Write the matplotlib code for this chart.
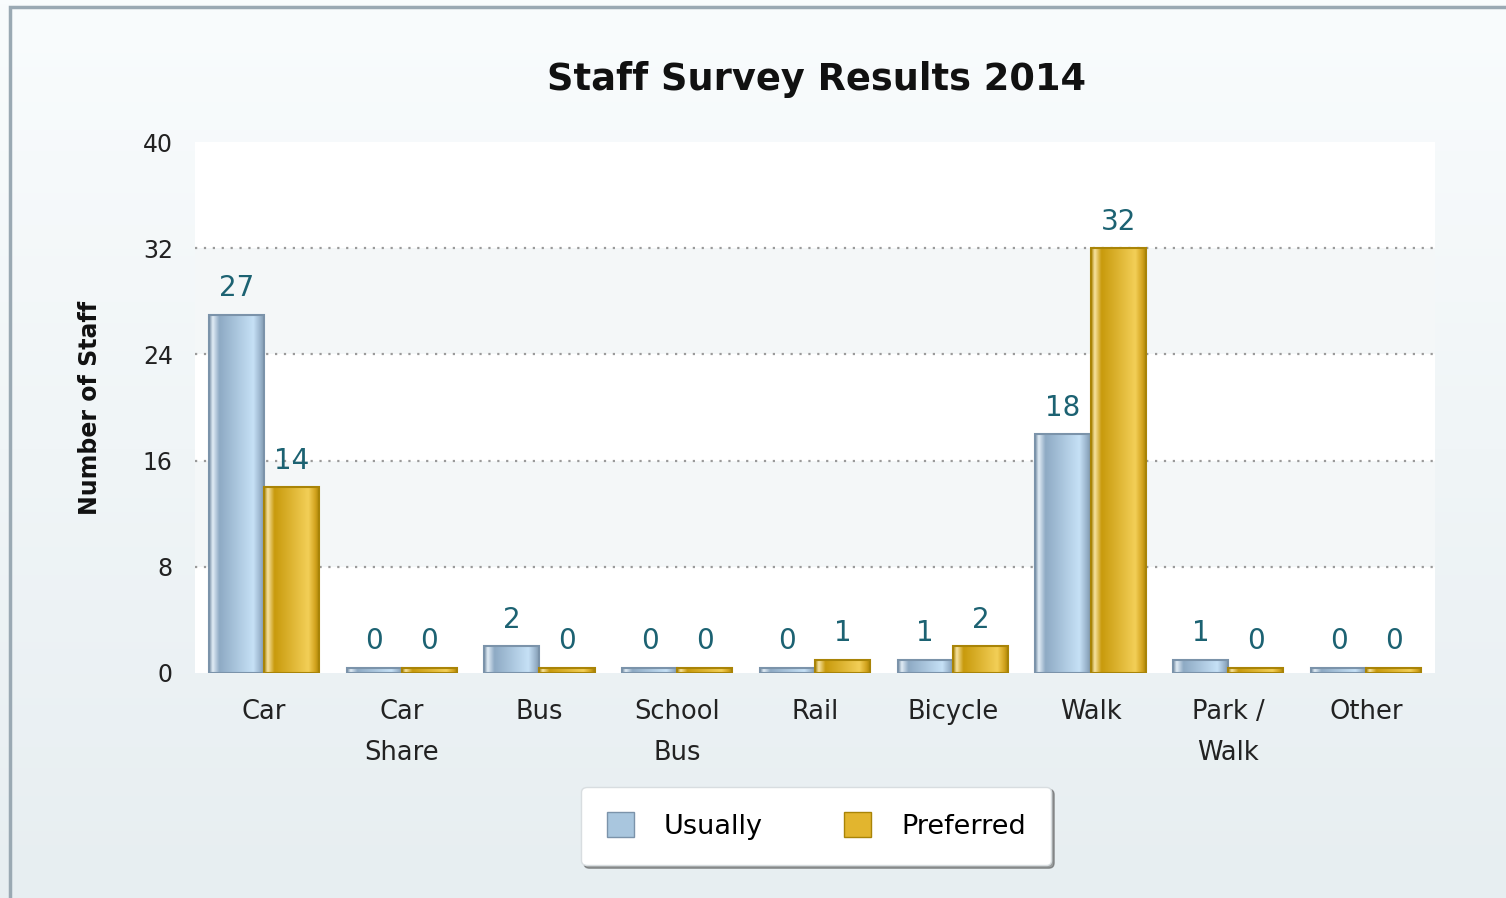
import numpy as np
import matplotlib.pyplot as plt
from matplotlib.colors import LinearSegmentedColormap
from matplotlib.patches import Rectangle, Patch

categories = ["Car", "Car\nShare", "Bus", "School\nBus", "Rail", "Bicycle", "Walk", "Park /\nWalk", "Other"]
usually = [27, 0, 2, 0, 0, 1, 18, 1, 0]
preferred = [14, 0, 0, 0, 1, 2, 32, 0, 0]
yticks = [0, 8, 16, 24, 32, 40]

blue_cmap = LinearSegmentedColormap.from_list(
    "blue", [(0, "#7f97ad"), (0.06, "#e2edf6"), (0.18, "#8eaac4"), (0.8, "#c6e1f6"), (0.92, "#9cb6ce"), (1, "#7f97ad")])
gold_cmap = LinearSegmentedColormap.from_list(
    "gold", [(0, "#b08a10"), (0.06, "#f8e4a2"), (0.18, "#c89a0c"), (0.8, "#f3cf58"), (0.92, "#d4a520"), (1, "#a88306")])

fig = plt.figure(figsize=(15.06, 8.98), dpi=100)

# background gradient
bg = fig.add_axes([0, 0, 1, 1], zorder=-10)
grad = np.linspace(0, 1, 256).reshape(-1, 1)
bg.imshow(grad, aspect="auto", extent=(0, 1, 0, 1),
          cmap=LinearSegmentedColormap.from_list("bg", ["#e7eef1", "#f9fcfd"]), origin="lower")
bg.add_patch(Rectangle((10 / 1506, -0.1), 1.2, 1 - 7 / 898 + 0.1, fill=False, edgecolor="#9aa9b3", lw=2.5))
bg.set_xlim(0, 1)
bg.set_ylim(0, 1)
bg.axis("off")

ax = fig.add_axes([195 / 1506, 1 - 673 / 898, 1240 / 1506, 531 / 898])
ax.set_facecolor("white")
for lo in (8, 24):
    ax.axhspan(lo, lo + 8, color="#f4f7f8", zorder=0, lw=0)
for yv in yticks[1:-1]:
    ax.axhline(yv, color="#9a9a9a", ls=(0, (1, 3)), lw=1.6, zorder=1)

x = np.arange(len(categories))
w = 0.4
min_h = 0.38
b1 = ax.bar(x - w / 2, [max(v, min_h) for v in usually], w, color="none", edgecolor="#7b93aa", lw=1.5, zorder=3)
b2 = ax.bar(x + w / 2, [max(v, min_h) for v in preferred], w, color="none", edgecolor="#a98407", lw=1.5, zorder=3)

for bars, cmap in ((b1, blue_cmap), (b2, gold_cmap)):
    for p in bars:
        x0, h, bw = p.get_x(), p.get_height(), p.get_width()
        im = ax.imshow(np.linspace(0, 1, 64).reshape(1, -1), cmap=cmap, aspect="auto",
                       extent=(x0, x0 + bw, 0, h), zorder=2)
        im.set_clip_path(p)

for bars, vals in ((b1, usually), (b2, preferred)):
    for p, v in zip(bars, vals):
        ax.annotate(str(v), (p.get_x() + p.get_width() / 2, p.get_height()),
                    xytext=(0, 9), textcoords="offset points", ha="center", va="bottom",
                    fontsize=20, color="#1c6272")

ax.set_xlim(-0.5, len(categories) - 0.5)
ax.set_ylim(0, 40)
ax.set_yticks(yticks)
ax.set_xticks(x)
ax.set_xticklabels(categories, linespacing=1.75)
ax.tick_params(axis="x", length=0, pad=19, labelsize=18.5, colors="#222222")
ax.tick_params(axis="y", length=0, pad=16, labelsize=17, colors="#222222")
for s in ax.spines.values():
    s.set_visible(False)
ax.set_ylabel("Number of Staff", fontsize=17, fontweight="bold", color="#111111")
ax.yaxis.set_label_coords(-0.075, 0.5)

fig.text(0.542, 1 - 80 / 898, "Staff Survey Results 2014", ha="center", va="center",
         fontsize=26.5, fontweight="bold", color="#111111")

handles = [Patch(facecolor="#a9c6de", edgecolor="#7b93aa"), Patch(facecolor="#e2b52e", edgecolor="#a98407")]
leg = fig.legend(handles, ["Usually", "Preferred"], loc="center", bbox_to_anchor=(0.542, 1 - 826 / 898),
                 ncol=2, fontsize=19.5, frameon=True, fancybox=True, shadow=True,
                 handlelength=1.0, handleheight=1.0, columnspacing=3.0, handletextpad=1.1,
                 borderpad=0.95, borderaxespad=0)
leg.get_frame().set_edgecolor("#d8dde0")
leg.get_frame().set_facecolor("white")

fig.savefig("out.png", dpi=100)
